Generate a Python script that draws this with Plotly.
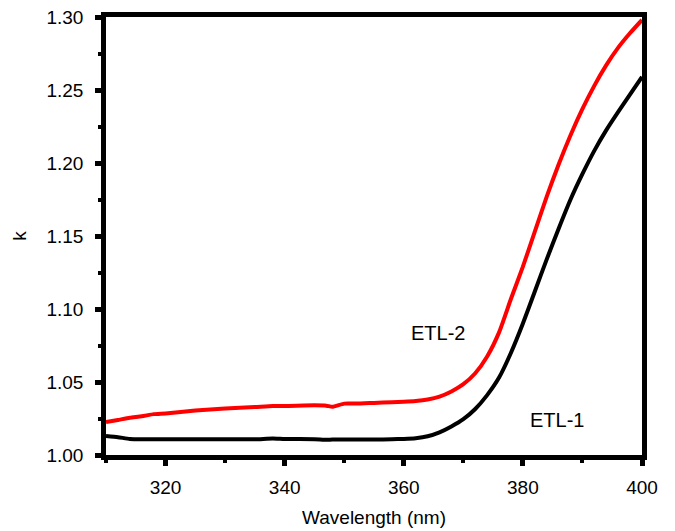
import plotly.graph_objects as go

wavelength = [310, 312, 314, 316, 318, 320, 325, 330, 335, 338, 340, 345, 347, 348, 350,
              352, 355, 358, 360, 362, 364, 366, 368, 370, 372, 374, 376, 378, 380, 382,
              384, 386, 388, 390, 392, 394, 396, 398, 400]

etl2_k = [1.0225, 1.0240, 1.0255, 1.0265, 1.0280, 1.0285, 1.0305, 1.0318, 1.0328, 1.0335,
          1.0335, 1.0340, 1.0338, 1.0330, 1.0352, 1.0352, 1.0357, 1.0362, 1.0365, 1.0370,
          1.0380, 1.0400, 1.0435, 1.0485, 1.0560, 1.0675, 1.0840, 1.1070, 1.1290, 1.1530,
          1.1770, 1.1990, 1.2190, 1.2370, 1.2530, 1.2670, 1.2790, 1.2890, 1.2980]

etl1_k = [1.0130, 1.0122, 1.0110, 1.0108, 1.0108, 1.0108, 1.0108, 1.0108, 1.0108, 1.0113,
          1.0110, 1.0108, 1.0104, 1.0106, 1.0106, 1.0106, 1.0106, 1.0108, 1.0110, 1.0115,
          1.0128, 1.0155, 1.0195, 1.0245, 1.0315, 1.0410, 1.0530, 1.0700, 1.0900, 1.1120,
          1.1340, 1.1550, 1.1750, 1.1925, 1.2085, 1.2225, 1.2350, 1.2470, 1.2590]

x_ticks = [320, 340, 360, 380, 400]
y_ticks = [1.00, 1.05, 1.10, 1.15, 1.20, 1.25, 1.30]
y_tick_labels = ["1.00", "1.05", "1.10", "1.15", "1.20", "1.25", "1.30"]

labels = [("ETL-2", 365.7, 1.0836), ("ETL-1", 385.8, 1.024)]

FONT = "Liberation Sans, Arial, Helvetica, sans-serif"

fig = go.Figure()
fig.add_trace(go.Scatter(x=wavelength, y=etl1_k, mode="lines",
                         line=dict(color="black", width=4, shape="spline", smoothing=0.5),
                         showlegend=False))
fig.add_trace(go.Scatter(x=wavelength, y=etl2_k, mode="lines",
                         line=dict(color="#ff0000", width=4, shape="spline", smoothing=0.5),
                         showlegend=False))

for txt, xv, yv in labels:
    fig.add_annotation(x=xv, y=yv, text=txt, showarrow=False,
                       font=dict(family=FONT, size=20, color="black"))

axis_common = dict(
    showline=True, linecolor="black", linewidth=4.5, mirror=True,
    ticks="outside", ticklen=6, tickwidth=4.5, tickcolor="black",
    showgrid=False, zeroline=False,
    tickfont=dict(family=FONT, size=19, color="black"),
)

fig.update_xaxes(range=[310, 400], tickvals=x_ticks, ticklabelstandoff=5,
                 minor=dict(dtick=10, tick0=310, ticks="outside", ticklen=3, tickwidth=4, tickcolor="black"),
                 title=dict(text="Wavelength (nm)", font=dict(family=FONT, size=19, color="black"), standoff=16),
                 **axis_common)
fig.update_yaxes(range=[1.0, 1.3], tickvals=y_ticks, ticktext=y_tick_labels, ticklabelstandoff=8,
                 minor=dict(dtick=0.025, tick0=1.0, ticks="outside", ticklen=3, tickwidth=4, tickcolor="black"),
                 title=dict(text="k", font=dict(family=FONT, size=19, color="black"), standoff=16),
                 **axis_common)

fig.update_layout(
    width=675, height=531,
    margin=dict(l=106, r=33, t=17, b=76, autoexpand=False),
    paper_bgcolor="white", plot_bgcolor="white",
)

fig.write_html("out.html")
